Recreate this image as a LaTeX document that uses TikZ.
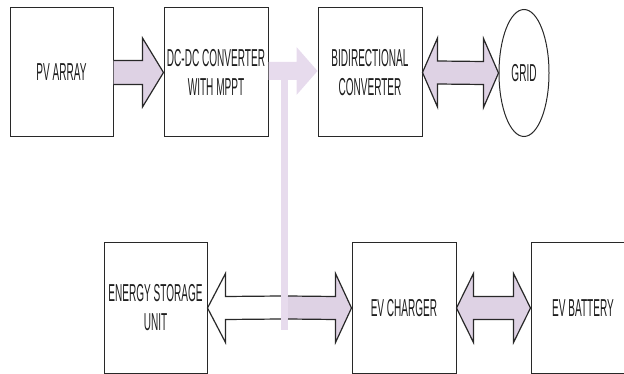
\documentclass[tikz,border=0pt]{standalone}
\usepackage{fontspec}
\newfontfamily\nf[FakeStretch=0.41]{Liberation Sans}
\usetikzlibrary{calc,shapes.geometric}
\definecolor{lav}{RGB}{222,210,228}
\definecolor{lavfaint}{RGB}{231,219,237}
\definecolor{txt}{RGB}{30,30,30}
\definecolor{edge}{RGB}{40,40,40}
\tikzset{
  blk/.style={draw=edge, line width=1pt, rectangle, minimum width=104pt, minimum height=129pt,
    inner sep=0pt, align=center, text=txt, font=\nf\fontsize{24.5}{29}\selectfont},
  oval/.style={draw=edge, line width=1pt, ellipse, minimum width=50pt, minimum height=127pt,
    inner sep=0pt, text=txt, font=\nf\fontsize{24.5}{29}\selectfont},
  fatarrow/.style={draw=edge, fill=lav, line width=1.2pt, line join=miter},
  whitearrow/.style={draw=edge, fill=white, line width=1.2pt, line join=miter},
  faintarrow/.style={fill=lavfaint, draw=none}
}
\begin{document}
\begin{tikzpicture}[x=1pt,y=-1pt]
\path[use as bounding box, clip] (0,0) rectangle (624,374);
% blocks
\node[blk, minimum width=103pt] (pv) at (61.5,72.5) {PV ARRAY};
\node[blk] (dc) at (216,72.5) {DC-DC CONVERTER\\WITH MPPT};
\node[blk] (bi) at (370,72.5) {BIDIRECTIONAL\\CONVERTER};
\node[oval] (grid) at (524,73) {GRID};
\node[blk, minimum width=103pt, minimum height=130pt] (st) at (155.5,308) {ENERGY STORAGE\\UNIT};
\node[blk, minimum height=130pt] (ch) at (404,308) {EV CHARGER};
\node[blk, minimum height=130pt] (bat) at (583,308) {EV BATTERY};
% junction coordinates
\coordinate (jtop) at (284.5,62);
\coordinate (jbot) at (284.5,330);
% PV -> DC-DC
\filldraw[fatarrow] ($(pv.east)+(0,-12)$) -- ($(dc.west)+(-21,-12)$) -- ($(dc.west)+(-21,-34.5)$)
  -- (dc.west) -- ($(dc.west)+(-21,34.5)$) -- ($(dc.west)+(-21,12)$) -- ($(pv.east)+(0,12)$);
% DC-DC -> bidirectional (faint)
\fill[faintarrow] ($(dc.east)+(0,-10.5)$) -- ($(bi.west)+(-21,-10.5)$) -- ($(bi.west)+(-21,-25.5)$)
  -- ($(bi.west)+(0,-1.5)$) -- ($(bi.west)+(-21,22.5)$) -- ($(bi.west)+(-21,7.5)$) -- ($(dc.east)+(0,7.5)$) -- cycle;
% bidirectional <-> grid
\filldraw[fatarrow] (bi.east) -- ($(bi.east)+(15,-34.5)$) -- ($(bi.east)+(15,-11.5)$)
  -- ($(grid.west)+(-15,-11.5)$) -- ($(grid.west)+(-15,-34.5)$) -- (grid.west)
  -- ($(grid.west)+(-15,34.5)$) -- ($(grid.west)+(-15,11.5)$) -- ($(bi.east)+(15,11.5)$)
  -- ($(bi.east)+(15,34.5)$) -- cycle;
% white arrow to energy storage
\filldraw[whitearrow] ($(jbot)+(-3.5,-34)$) -- ($(st.east)+(18,-11.5)$) -- ($(st.east)+(18,-34.5)$)
  -- (st.east) -- ($(st.east)+(18,34.5)$) -- ($(st.east)+(18,11.5)$) -- ($(jbot)+(-3.5,-11)$);
% vertical bar (faint)
\fill[faintarrow] ($(jtop)+(-3.5,0)$) rectangle ($(jbot)+(3.5,0)$);
% arrow to EV charger
\filldraw[fatarrow] ($(jbot)+(3.5,-34)$) -- ($(ch.west)+(-16,-11.5)$) -- ($(ch.west)+(-16,-34.5)$)
  -- (ch.west) -- ($(ch.west)+(-16,34.5)$) -- ($(ch.west)+(-16,11.5)$) -- ($(jbot)+(3.5,-11)$);
% EV charger <-> EV battery
\filldraw[fatarrow] (ch.east) -- ($(ch.east)+(17,-34.5)$) -- ($(ch.east)+(17,-11.5)$)
  -- ($(bat.west)+(-17,-11.5)$) -- ($(bat.west)+(-17,-34.5)$) -- (bat.west)
  -- ($(bat.west)+(-17,34.5)$) -- ($(bat.west)+(-17,11.5)$) -- ($(ch.east)+(17,11.5)$)
  -- ($(ch.east)+(17,34.5)$) -- cycle;
\end{tikzpicture}
\end{document}
